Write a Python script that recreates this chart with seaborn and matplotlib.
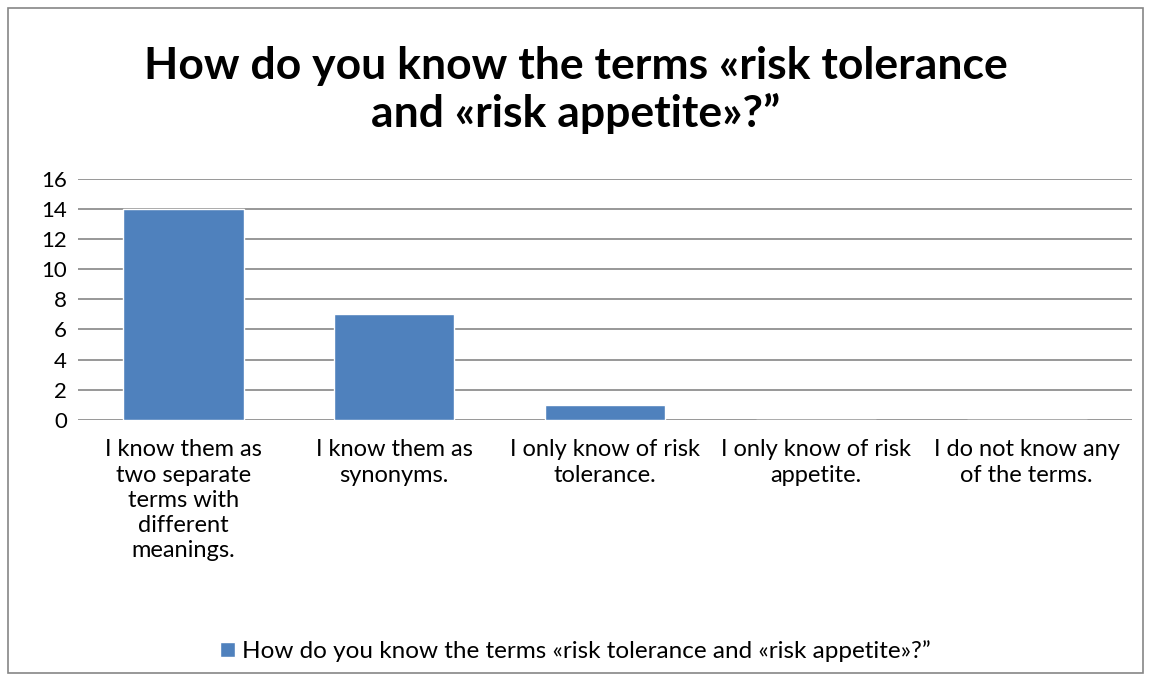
import matplotlib
matplotlib.use("Agg")
import matplotlib.pyplot as plt
import seaborn as sns
import pandas as pd
from matplotlib.patches import Rectangle

categories = [
    "I know them as\ntwo separate\nterms with\ndifferent\nmeanings.",
    "I know them as\nsynonyms.",
    "I only know of risk\ntolerance.",
    "I only know of risk\nappetite.",
    "I do not know any\nof the terms.",
]
values = [14, 7, 1, 0, 0]
series_name = "How do you know the terms «risk tolerance and «risk appetite»?”"
title = "How do you know the terms «risk tolerance\nand «risk appetite»?”"
yticks = [0, 2, 4, 6, 8, 10, 12, 14, 16]

sns.set_theme(style="white")
plt.rcParams['font.family'] = ['Lato', 'DejaVu Sans']
plt.rcParams['text.color'] = 'black'
plt.rcParams['xtick.color'] = 'black'
plt.rcParams['ytick.color'] = 'black'

df = pd.DataFrame({"cat": categories, "val": values, "series": series_name})

fig = plt.figure(figsize=(11.51, 6.75), dpi=100)
ax = fig.add_axes([0.0678, 0.378, 0.9157, 0.357])
sns.barplot(data=df, x="cat", y="val", hue="series", palette=["#4F81BD"],
            width=0.57, ax=ax, saturation=1, legend=True)

ax.set_ylim(0, 16)
ax.set_yticks(yticks)
ax.set_yticklabels([str(t) for t in yticks], fontsize=16)
ax.set_xlabel("")
ax.set_ylabel("")
ax.tick_params(axis="x", labelsize=17, length=0, pad=14)
ax.tick_params(axis="y", length=0, pad=8)
for lbl in ax.get_xticklabels():
    lbl.set_verticalalignment("top")
    lbl.set_linespacing(1.25)
ax.yaxis.grid(True, color="#868686", linewidth=1.2)
ax.set_axisbelow(True)
for s in ax.spines.values():
    s.set_visible(False)

leg = ax.legend(loc="center", frameon=False, fontsize=17.5,
                handlelength=0.6, handleheight=0.6, handletextpad=0.3)
leg.set_bbox_to_anchor((0.5, 1 - 651 / 675), transform=fig.transFigure)

fig.text(0.5, 1 - 90 / 675, title, ha="center", va="center", fontsize=32,
         fontweight="bold", linespacing=1.2, color="black")

fig.patches.append(Rectangle((8 / 1151, 2 / 675), 1 - 16 / 1151, 1 - 10 / 675,
                             transform=fig.transFigure, fill=False,
                             edgecolor="#868686", linewidth=1.2))

fig.savefig("out.png", dpi=100)
